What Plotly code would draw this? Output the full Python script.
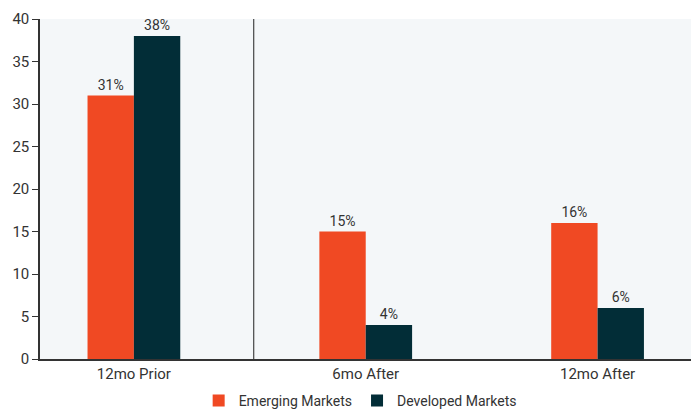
import plotly.graph_objects as go

categories = ["12mo Prior", "6mo After", "12mo After"]
emerging = [31, 15, 16]
developed = [38, 4, 6]
y_ticks = [0, 5, 10, 15, 20, 25, 30, 35, 40]

ORANGE = "#f04923"
DARK = "#022d37"
TXT = "#333333"
FONT = "Roboto"

fig = go.Figure()
fig.add_trace(go.Bar(
    name="Emerging Markets", x=categories, y=emerging, marker_color=ORANGE,
    marker_line_width=0,
    text=[f"{v}%" for v in emerging], textposition="outside",
    textfont=dict(size=14, color=TXT, family=FONT), cliponaxis=False,
))
fig.add_trace(go.Bar(
    name="Developed Markets", x=categories, y=developed, marker_color=DARK,
    marker_line_width=0,
    text=[f"{v}%" for v in developed], textposition="outside",
    textfont=dict(size=14, color=TXT, family=FONT), cliponaxis=False,
))

fig.add_shape(type="line", xref="x", yref="paper", x0=0.517, x1=0.517, y0=0, y1=1,
              line=dict(color="#222222", width=1))

fig.update_layout(
    width=699, height=409,
    margin=dict(l=32, r=0, t=11, b=46),
    paper_bgcolor="white", plot_bgcolor="#f4f7f9",
    barmode="group", bargap=0.6, bargroupgap=0,
    font=dict(family=FONT, size=14, color=TXT),
    showlegend=True,
    legend=dict(orientation="h", x=0.48, xanchor="center", y=-0.125, yanchor="middle",
                font=dict(size=14, color=TXT, family=FONT), traceorder="normal",
                itemwidth=30),
)
fig.update_xaxes(type="category", range=[-0.405, 2.472], showgrid=False,
                 showline=True, linecolor="#333333", linewidth=1.5, ticks="",
                 tickfont=dict(size=15, color=TXT, family=FONT))
fig.update_yaxes(range=[0, 40], tickvals=y_ticks, showgrid=False, zeroline=False,
                 showline=True, linecolor="#333333", linewidth=1.5,
                 ticks="outside", ticklen=6, tickcolor="#333333",
                 tickfont=dict(size=15, color=TXT, family=FONT))

fig.write_html("out.html")
